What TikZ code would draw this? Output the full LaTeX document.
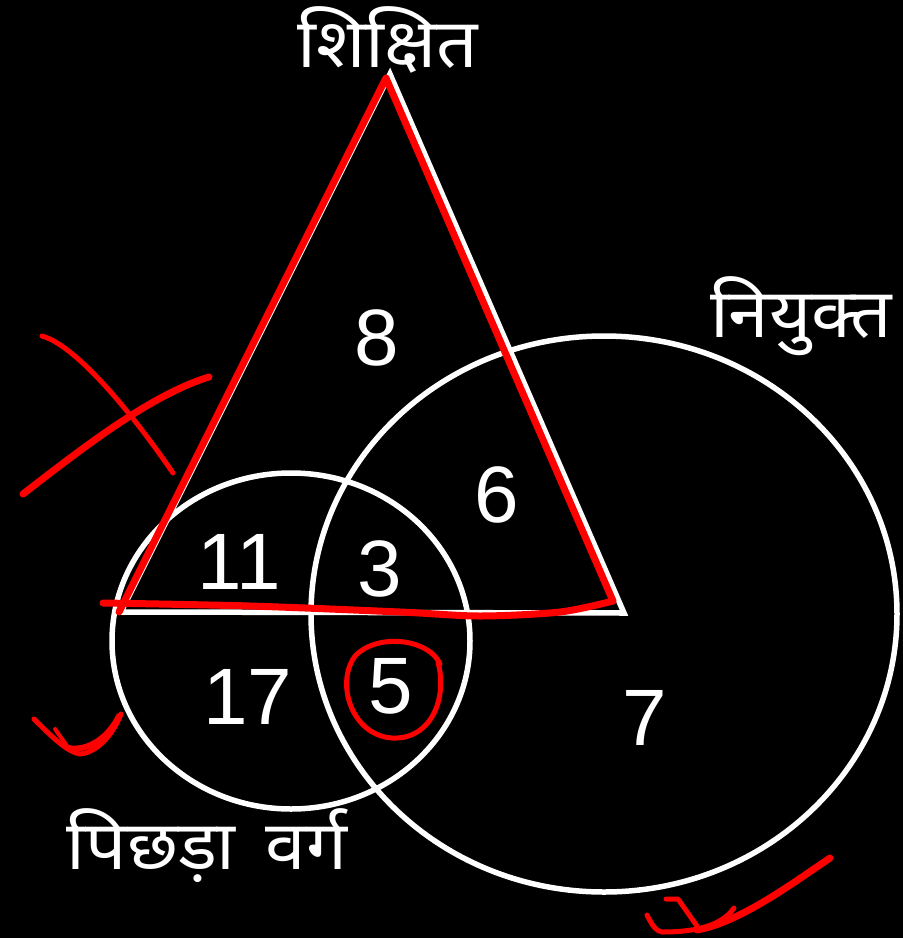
\documentclass[tikz,border=0pt]{standalone}
\usepackage{fontspec}
\setmainfont{Liberation Sans}
\newfontfamily\deva[Script=Devanagari]{Noto Sans}
\begin{document}
\begin{tikzpicture}[x=1pt,y=-1pt,
  wline/.style={draw=white,line width=5.5pt},
  redpen/.style={draw=red,line width=7pt,line cap=round,line join=round},
  redthin/.style={draw=red,line width=5pt,line cap=round,line join=round},
  num/.style={text=white,font=\fontsize{80}{80}\selectfont,inner sep=0pt},
  lbl/.style={text=white,font=\deva\fontsize{68}{80}\selectfont,inner sep=0pt}]
\fill[black] (0,0) rectangle (903,938);
\useasboundingbox (0,0) rectangle (903,938);
% white triangle
\coordinate (tA) at (390,74);
\coordinate (tL) at (121,612);
\coordinate (tR) at (624,613);
\draw[wline,line join=miter] (tA) -- (tL) -- (tR) -- cycle;
% circles
\draw[wline] (291,641) ellipse [x radius=179pt, y radius=168pt];
\draw[wline] (604,614) ellipse [x radius=293pt, y radius=278pt];
% red triangle
\coordinate (rA) at (386,78);
\coordinate (rL) at (119,612);
\coordinate (rR) at (613,601);
\draw[redpen] (rL) -- (rA) -- (rR);
\draw[redpen] plot[smooth] coordinates {(103,603) (250,606) (400,612) (480,616) (560,612) (rR)};
% numbers
\node[num] (n8) at (377,338) {8};
\node[num] (n6) at (497,495) {6};
\node[num] (n11) at (239,562) {11};
\node[num] (n3) at (380,569) {3};
\node[num] (n17) at (248,697) {17};
\node[num] (n5) at (391,686) {5};
\node[num] (n7) at (645,718) {7};
% labels
\node[lbl] (ls) at (388,40) {\scalebox{1.07}[1]{शिक्षित}};
\node[lbl] (ln) at (801,316) {\scalebox{1.07}[1]{नियुक्त}};
\node[lbl] (lp) at (207,846) {\scalebox{1.07}[1]{पिछड़ा\hspace{28pt}वर्ग}};
% red circle around 5
\draw[redthin] (440,664) .. controls (430,640) and (380,632) .. (356,655)
  .. controls (335,680) and (350,735) .. (392,738)
  .. controls (430,740) and (448,700) .. (438,662);
% red cross
\draw[redthin] (42,336) .. controls (75,345) and (130,410) .. (173,473);
\draw[redpen] (209,377) .. controls (150,395) and (80,450) .. (23,494);
% red tick left
\draw[redthin] (34,719) .. controls (55,740) and (68,752) .. (80,754)
  .. controls (100,752) and (115,730) .. (121,714);
\draw[redthin,line width=6pt] (68,748) .. controls (90,752) and (110,735) .. (119,716);
\draw[redthin,line width=4pt] (55,729) -- (67,746);
% red mark bottom right
\draw[redthin] (666,899) -- (678,899) -- (697,926);
\draw[redthin] (647,915) .. controls (652,925) and (656,931) .. (662,932)
  .. controls (690,932) and (720,928) .. (734,908);
\draw[redpen] (697,930) .. controls (740,922) and (790,885) .. (830,858);
\end{tikzpicture}
\end{document}
